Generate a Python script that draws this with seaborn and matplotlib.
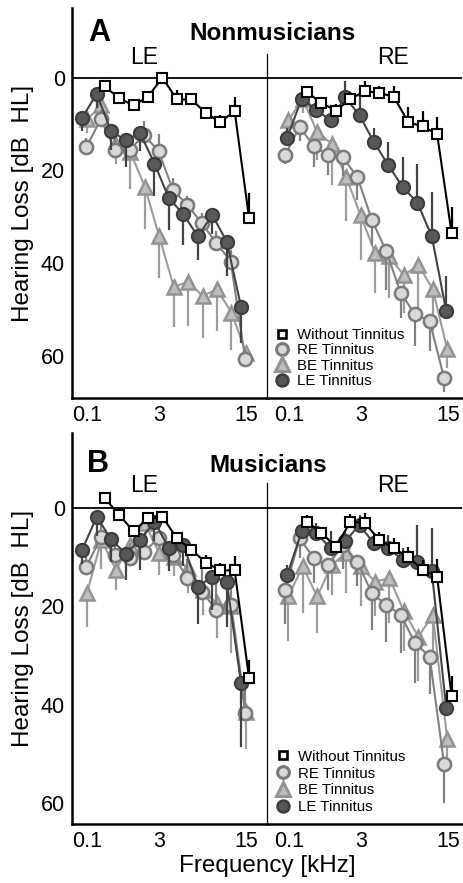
import numpy as np
import pandas as pd
import matplotlib
matplotlib.use("Agg")
import matplotlib.pyplot as plt
import seaborn as sns
from matplotlib.lines import Line2D

nan = np.nan

# ---------------- data ----------------
freq_index = list(range(12))
tick_index = [0, 5, 11]
tick_labels = ["0.1", "3", "15"]
groups = ["Without Tinnitus", "RE Tinnitus", "BE Tinnitus", "LE Tinnitus"]

# Panel A (Nonmusicians), left ear
A_LE_without = [nan, 1.9, 4.4, 6.0, 4.1, 0.0, 4.7, 4.7, 7.6, 9.6, 7.2, 30.3]
A_LE_without_err = [nan, 1.0, 1.0, 1.2, 1.0, 1.2, 2.0, 1.2, 1.2, 1.5, 3.0, 5.4]
A_LE_re = [15.0, 9.0, 15.5, 15.5, 12.4, 15.8, 24.2, 27.4, 31.4, 35.6, 39.6, 60.6]
A_LE_re_err = [2.0, 2.0, 2.5, 3.0, 3.0, 3.7, 2.5, 2.0, 2.2, 2.5, 2.5, 2.0]
A_LE_be = [9.0, 6.0, 14.6, 16.0, 23.5, 34.2, 45.0, 44.0, 47.0, 45.6, 50.6, 59.2]
A_LE_be_err = [3.0, 4.0, 4.0, 8.0, 9.0, 9.0, 8.6, 9.5, 9.0, 9.0, 8.0, 3.0]
A_LE_le = [8.6, 3.5, 11.5, 13.5, 11.9, 18.5, 26.0, 29.4, 34.2, 29.6, 35.3, 49.4]
A_LE_le_err = [3.0, 3.0, 4.0, 5.7, 4.0, 7.0, 6.8, 6.6, 5.0, 4.0, 7.5, 7.7]

# Panel A (Nonmusicians), right ear
A_RE_without = [nan, 3.1, 5.5, 7.1, 4.6, 2.9, 3.3, 4.1, 9.6, 10.5, 12.2, 33.5]
A_RE_without_err = [nan, 1.0, 1.2, 1.4, 1.5, 2.2, 1.5, 2.3, 3.2, 3.4, 3.7, 5.7]
A_RE_re = [16.7, 10.6, 14.8, 16.7, 17.2, 21.4, 30.6, 37.4, 46.4, 51.0, 52.4, 64.7]
A_RE_re_err = [2.0, 3.0, 4.5, 4.3, 4.0, 5.0, 5.4, 8.3, 5.4, 6.8, 6.4, 3.0]
A_RE_be = [9.2, 4.6, 11.7, 14.2, 21.4, 29.6, 37.7, 38.5, 42.6, 40.3, 45.6, 58.5]
A_RE_be_err = [4.0, 3.0, 6.0, 9.0, 9.5, 9.6, 8.7, 9.0, 8.0, 12.0, 9.0, 4.0]
A_RE_le = [12.9, 4.5, 6.9, 9.2, 4.2, 8.1, 13.9, 18.9, 23.6, 26.9, 34.2, 50.3]
A_RE_le_err = [2.0, 1.5, 2.0, 2.0, 3.5, 5.0, 3.0, 5.0, 6.5, 8.2, 9.6, 7.5]

# Panel B (Musicians), left ear
B_LE_without = [nan, -2.0, 1.4, 4.8, 2.1, 1.8, 6.2, 8.5, 11.1, 12.7, 12.7, 34.6]
B_LE_without_err = [nan, 1.0, 1.0, 1.0, 1.0, 1.2, 1.0, 1.0, 1.5, 1.5, 3.0, 3.7]
B_LE_re = [12.0, 6.0, 9.5, 10.2, 8.9, 6.2, 9.5, 14.3, 17.0, 20.7, 19.7, 41.7]
B_LE_re_err = [3.0, 3.0, 3.0, 3.0, 3.0, 3.0, 3.0, 4.0, 5.0, 6.0, 6.0, 6.0]
B_LE_be = [17.3, 6.5, 12.6, 7.5, 3.1, 9.2, 9.9, 12.3, 16.7, 19.4, 20.0, 41.4]
B_LE_be_err = [6.8, 6.0, 4.0, 4.0, 4.0, 4.4, 4.0, 5.0, 5.0, 7.0, 9.5, 7.5]
B_LE_le = [8.5, 1.8, 6.4, 9.3, 6.6, 2.8, 8.2, 7.5, 16.0, 14.0, 15.0, 35.6]
B_LE_le_err = [3.0, 4.0, 4.5, 5.3, 6.0, 4.0, 4.7, 4.4, 7.5, 6.8, 9.2, 13.0]

# Panel B (Musicians), right ear
B_RE_without = [nan, 2.8, 5.1, 7.9, 2.8, 3.1, 6.5, 8.2, 10.0, 12.6, 14.0, 38.2]
B_RE_without_err = [nan, 1.4, 1.0, 1.0, 1.5, 2.0, 1.5, 2.0, 2.0, 2.0, 3.7, 4.0]
B_RE_re = [16.7, 6.2, 10.2, 11.6, 7.5, 10.9, 17.3, 19.7, 21.7, 27.5, 30.2, 52.0]
B_RE_re_err = [6.8, 4.0, 5.0, 5.0, 5.0, 5.0, 7.5, 7.5, 7.7, 8.1, 7.5, 8.0]
B_RE_be = [18.0, 11.9, 18.0, 11.6, 9.2, 11.9, 15.0, 14.3, 21.0, 26.2, 21.7, 47.0]
B_RE_be_err = [9.0, 9.5, 7.5, 6.0, 8.0, 8.0, 7.0, 9.0, 8.0, 9.0, 9.0, 6.0]
B_RE_le = [13.6, 4.8, 5.1, 8.2, 6.8, 3.5, 7.2, 8.2, 10.6, 10.9, 12.9, 40.7]
B_RE_le_err = [2.0, 2.0, 2.0, 3.4, 2.0, 2.0, 2.0, 2.7, 2.4, 7.5, 8.8, 3.0]

# ---------------- styling ----------------
sns.set_theme(style="white")
plt.rcParams["font.family"] = ["Liberation Sans", "DejaVu Sans"]
for k in ["text.color", "axes.labelcolor", "xtick.color", "ytick.color", "axes.edgecolor"]:
    plt.rcParams[k] = "black"

style = {
    "Without Tinnitus": dict(marker="s", ms=7, mfc="white", mec="black", mew=1.5,
                             color="black", z=8),
    "RE Tinnitus": dict(marker="o", ms=9.5, mfc="#d9d9d9", mec="#7a7a7a", mew=1.8,
                        color="#808080", z=5),
    "BE Tinnitus": dict(marker="^", ms=10.5, mfc="#bdbdbd", mec="#939393", mew=1.8,
                        color="#9c9c9c", z=4),
    "LE Tinnitus": dict(marker="o", ms=9.5, mfc="#585858", mec="#3c3c3c", mew=1.5,
                        color="#434343", z=6),
}
# horizontal dodge (index units) per ear panel
dodge = {
    "LE": {"Without Tinnitus": 0.22, "RE Tinnitus": -0.05, "BE Tinnitus": 0.0, "LE Tinnitus": -0.33},
    "RE": {"Without Tinnitus": 0.25, "RE Tinnitus": -0.27, "BE Tinnitus": -0.05, "LE Tinnitus": -0.12},
}
# error bar direction: +1 = downward (larger loss), -1 = upward
err_dir = {
    "LE": {"Without Tinnitus": -1, "RE Tinnitus": -1, "BE Tinnitus": 1, "LE Tinnitus": 1},
    "RE": {"Without Tinnitus": -1, "RE Tinnitus": 1, "BE Tinnitus": 1, "LE Tinnitus": -1},
}

panels = {
    ("A", "LE"): [(A_LE_without, A_LE_without_err), (A_LE_re, A_LE_re_err),
                  (A_LE_be, A_LE_be_err), (A_LE_le, A_LE_le_err)],
    ("A", "RE"): [(A_RE_without, A_RE_without_err), (A_RE_re, A_RE_re_err),
                  (A_RE_be, A_RE_be_err), (A_RE_le, A_RE_le_err)],
    ("B", "LE"): [(B_LE_without, B_LE_without_err), (B_LE_re, B_LE_re_err),
                  (B_LE_be, B_LE_be_err), (B_LE_le, B_LE_le_err)],
    ("B", "RE"): [(B_RE_without, B_RE_without_err), (B_RE_re, B_RE_re_err),
                  (B_RE_be, B_RE_be_err), (B_RE_le, B_RE_le_err)],
}

W, H = 464, 883
fig = plt.figure(figsize=(W / 100, H / 100), dpi=100)


def rect(x0, y0, x1, y1):
    return [x0 / W, 1 - y1 / H, (x1 - x0) / W, (y1 - y0) / H]


axes = {
    ("A", "LE"): fig.add_axes(rect(72, 8, 267, 398)),
    ("A", "RE"): fig.add_axes(rect(267, 8, 462, 398)),
    ("B", "LE"): fig.add_axes(rect(72, 433, 267, 824)),
    ("B", "RE"): fig.add_axes(rect(267, 433, 462, 824)),
}
ylims = {"A": (69.0, -15.0), "B": (64.2, -15.2)}
xlims = {"LE": (-1.04, 12.46), "RE": (-1.52, 11.97)}

draw_order = ["BE Tinnitus", "RE Tinnitus", "LE Tinnitus", "Without Tinnitus"]

for (panel, ear), series in panels.items():
    ax = axes[(panel, ear)]
    ax.set_facecolor("none")
    ax.axhline(0, color="black", lw=1.3, zorder=1)
    for g in draw_order:
        vals, errs = series[groups.index(g)]
        st = style[g]
        df = pd.DataFrame({"x": np.array(freq_index, float) + dodge[ear][g],
                           "loss": vals, "err": errs}).dropna()
        d = err_dir[ear][g]
        lower = df["err"] if d < 0 else 0 * df["err"]
        upper = df["err"] if d > 0 else 0 * df["err"]
        ax.errorbar(df["x"], df["loss"], yerr=[lower, upper], fmt="none",
                    ecolor=st["color"], elinewidth=1.6, capsize=0, zorder=st["z"])
        sns.lineplot(data=df, x="x", y="loss", ax=ax, color=st["color"],
                     linewidth=1.5, marker=st["marker"], markersize=st["ms"],
                     markerfacecolor=st["mfc"], markeredgecolor=st["mec"],
                     markeredgewidth=st["mew"], errorbar=None, zorder=st["z"] + 0.5,
                     legend=False)
    ax.set_xlim(*xlims[ear])
    ax.set_ylim(*ylims[panel])
    ax.set_xlabel("")
    ax.set_ylabel("")
    ax.grid(False)
    ax.set_xticks(tick_index)
    ax.set_xticklabels(tick_labels)
    ax.tick_params(axis="x", direction="in", length=4, width=1.5, labelsize=15.5, pad=5)
    for s in ["top", "right"]:
        ax.spines[s].set_visible(False)
    ax.spines["bottom"].set_linewidth(1.8)
    if ear == "LE":
        ax.set_yticks([0, 20, 40, 60])
        ax.tick_params(axis="y", direction="out", length=4, width=1.5, labelsize=15.5, pad=1)
        ax.spines["left"].set_linewidth(1.8)
    else:
        ax.set_yticks([])
        ax.spines["left"].set_linewidth(0.9)
        ax.spines["left"].set_bounds(ylims[panel][0], -5)

# legends
for panel, anchor, spacing in [("A", (0.04, 0.18), 0.09), ("B", (0.045, 0.19), 0.19)]:
    handles = []
    for g in groups:
        st = style[g]
        handles.append(Line2D([], [], ls="none", marker=st["marker"],
                              ms=st["ms"] - 1, mfc=st["mfc"], mec=st["mec"],
                              mew=st["mew"] + 0.4))
    axes[(panel, "RE")].legend(handles, groups, loc="upper left", bbox_to_anchor=anchor,
                               frameon=False, fontsize=10.8, handlelength=1.0,
                               handletextpad=0.5, labelspacing=spacing,
                               borderpad=0, borderaxespad=0)


def ftext(x, y, s, **kw):
    fig.text(x / W, 1 - y / H, s, ha="center", va="center", **kw)


ftext(99, 33, "A", fontsize=22, fontweight="bold")
ftext(273, 33, "Nonmusicians", fontsize=17.5, fontweight="bold")
ftext(144, 57, "LE", fontsize=16.5)
ftext(393, 57, "RE", fontsize=16.5)
ftext(98, 464, "B", fontsize=22, fontweight="bold")
ftext(268, 465, "Musicians", fontsize=17.5, fontweight="bold")
ftext(144, 486, "LE", fontsize=16.5)
ftext(393, 486, "RE", fontsize=16.5)
ftext(23, 203, "Hearing Loss [dB  HL]", fontsize=17.5, rotation=90)
ftext(23, 628, "Hearing Loss [dB  HL]", fontsize=17.5, rotation=90)
ftext(267, 866, "Frequency [kHz]", fontsize=17.5)

fig.savefig("out.png", dpi=100)
